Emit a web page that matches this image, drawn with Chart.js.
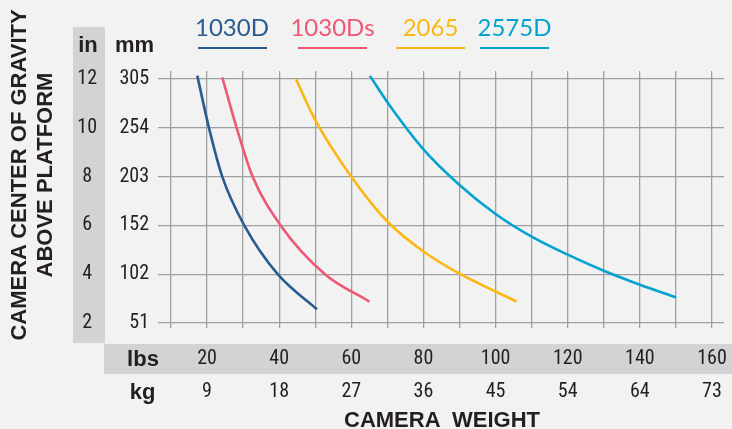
<!DOCTYPE html>
<html><head><meta charset="utf-8">
<script src="https://cdn.jsdelivr.net/npm/chart.js@4.4.1/dist/chart.umd.min.js"></script>
<style>
html,body{margin:0;padding:0;background:#f2f2f2;}
#wrap{position:relative;width:732px;height:429px;overflow:hidden;background:#f2f2f2;}
.abs{position:absolute;white-space:pre;}
.panel{position:absolute;background:#d1d3d4;}
canvas{position:absolute;left:0;top:0;}
.hdr{font:bold 22px "Liberation Sans",Arial,sans-serif;color:#231f20;line-height:22px;text-align:center;}
.leg{font:24px Lato,sans-serif;line-height:24px;text-align:center;width:120px;top:14.7px;}
.ul{position:absolute;height:2.6px;width:69px;top:46.6px;}
#ytitle{left:-168.25px;top:148.5px;width:400px;line-height:28.5px;transform:rotate(-90deg);transform-origin:50% 50%;font:bold 22px "Liberation Sans",Arial,sans-serif;color:#231f20;text-align:center;}
</style></head><body>
<div id="wrap">
 <div class="panel" style="left:73px;top:27px;width:32px;height:316px"></div>
 <div class="panel" style="left:104px;top:344px;width:628px;height:30px"></div>
 <canvas id="c" width="732" height="429"></canvas>
 <div class="abs hdr" style="left:68px;top:34.4px;width:40px">in</div>
 <div class="abs hdr" style="left:114.5px;top:34.4px;width:40px">mm</div>
 <div class="abs hdr" style="left:118px;top:348px;width:50px">lbs</div>
 <div class="abs hdr" style="left:117.5px;top:380.7px;width:50px">kg</div>
 <div class="abs hdr" style="left:292px;top:409.2px;width:300px">CAMERA  WEIGHT</div>
 <div class="abs" id="ytitle">CAMERA CENTER OF GRAVITY<br>ABOVE PLATFORM</div>
 <div id="legend"></div>
</div>
<script>
// ---- data ----
const seriesNames = ['1030D', '1030Ds', '2065', '2575D'];
const lbs1030D  = [17.29, 20.53, 24.22, 30.32, 39.58, 50.48];
const in1030D   = [12.14, 10.0, 8.0, 6.0, 4.0, 2.56];
const lbs1030Ds = [24.22, 28.21, 32.65, 40.41, 52.69, 64.98];
const in1030Ds  = [12.07, 10.0, 8.0, 6.0, 4.0, 2.88];
const lbs2065   = [44.66, 50, 60, 70, 80, 90, 100, 105.84];
const in2065    = [11.99, 10.32, 8.0, 6.16, 4.93, 4.02, 3.29, 2.88];
const lbs2575D  = [65.17, 70, 80, 90, 100, 110, 120, 130, 140, 150.09];
const in2575D   = [12.13, 11.05, 9.12, 7.66, 6.47, 5.54, 4.80, 4.14, 3.57, 3.05];
const lbsTicks  = [10, 20, 30, 40, 50, 60, 70, 80, 90, 100, 110, 120, 130, 140, 150, 160];
const lbsLabels = ['', '20', '', '40', '', '60', '', '80', '', '100', '', '120', '', '140', '', '160'];
const kgLabels  = ['', '9', '', '18', '', '27', '', '36', '', '45', '', '54', '', '64', '', '73'];
const inTicks   = [2, 4, 6, 8, 10, 12];
const inLabels  = ['2', '4', '6', '8', '10', '12'];
const mmLabels  = ['51', '102', '152', '203', '254', '305'];
const colors = ['#285c90', '#ee5874', '#fdb714', '#00a3cf'];

// legend (HTML)
const legCenters = [232, 332.5, 430.5, 514.5];
const lg = document.getElementById('legend');
seriesNames.forEach((n, i) => {
  const t = document.createElement('div');
  t.className = 'abs leg'; t.textContent = n; t.style.color = colors[i];
  t.style.left = (legCenters[i] - 60) + 'px';
  lg.appendChild(t);
  const u = document.createElement('div');
  u.className = 'ul'; u.style.background = colors[i];
  u.style.left = (legCenters[i] - 34.5) + 'px';
  lg.appendChild(u);
});

const pts = (xs, ys) => xs.map((x, i) => ({x: x, y: ys[i]}));
const allX = [lbs1030D, lbs1030Ds, lbs2065, lbs2575D];
const allY = [in1030D, in1030Ds, in2065, in2575D];
const numFont = {family: '"Roboto Condensed", "Liberation Sans", sans-serif', size: 20, lineHeight: 1.2};
const txt = '#231f20';
const gridCol = '#a0a0a0';
const noPad = s => { s.paddingLeft = 0; s.paddingRight = 0; s.paddingTop = 0; s.paddingBottom = 0; };

new Chart(document.getElementById('c'), {
  type: 'line',
  data: {
    datasets: seriesNames.map((n, i) => ({
      label: n,
      data: pts(allX[i], allY[i]),
      borderColor: colors[i],
      borderWidth: 2.6,
      pointRadius: 0,
      fill: false,
      cubicInterpolationMode: 'monotone',
      xAxisID: 'x', yAxisID: 'y'
    }))
  },
  options: {
    responsive: false,
    animation: false,
    layout: {padding: {left: 73, right: 8, top: 71, bottom: 0}},
    plugins: {legend: {display: false}, tooltip: {enabled: false}},
    scales: {
      x: {
        type: 'linear', position: 'bottom', min: 6.4, max: 163.33, weight: 0,
        afterBuildTicks: s => { s.ticks = lbsTicks.map(v => ({value: v})); },
        afterFit: s => { s.height = 51; noPad(s); },
        grid: {color: gridCol, lineWidth: 1.3, drawTicks: true, tickLength: 5},
        border: {display: false},
        ticks: {font: numFont, color: txt, padding: 19, maxRotation: 0, autoSkip: false,
          callback: (v, i) => lbsLabels[i]}
      },
      xkg: {
        type: 'linear', position: 'bottom', min: 6.4, max: 163.33, weight: 1,
        afterBuildTicks: s => { s.ticks = lbsTicks.map(v => ({value: v})); },
        afterFit: s => { s.height = 55; noPad(s); },
        grid: {display: false, drawTicks: false},
        border: {display: false},
        ticks: {font: numFont, color: txt, padding: 6, maxRotation: 0, autoSkip: false,
          callback: (v, i) => kgLabels[i]}
      },
      y: {
        type: 'linear', position: 'left', min: 2, max: 12.33, weight: 0,
        afterBuildTicks: s => { s.ticks = inTicks.map(v => ({value: v})); },
        afterFit: s => { s.width = 53; noPad(s); },
        grid: {color: gridCol, lineWidth: 1.3, drawTicks: false},
        border: {display: false},
        ticks: {font: numFont, color: txt, padding: 9, autoSkip: false,
          callback: (v, i) => mmLabels[i]}
      },
      yin: {
        type: 'linear', position: 'left', min: 2, max: 12.33, weight: 1,
        afterBuildTicks: s => { s.ticks = inTicks.map(v => ({value: v})); },
        afterFit: s => { s.width = 32; noPad(s); },
        grid: {display: false, drawTicks: false},
        border: {display: false},
        ticks: {font: numFont, color: txt, padding: 8, crossAlign: 'center', autoSkip: false,
          callback: (v, i) => inLabels[i]}
      }
    }
  }
});
</script>
</body></html>
